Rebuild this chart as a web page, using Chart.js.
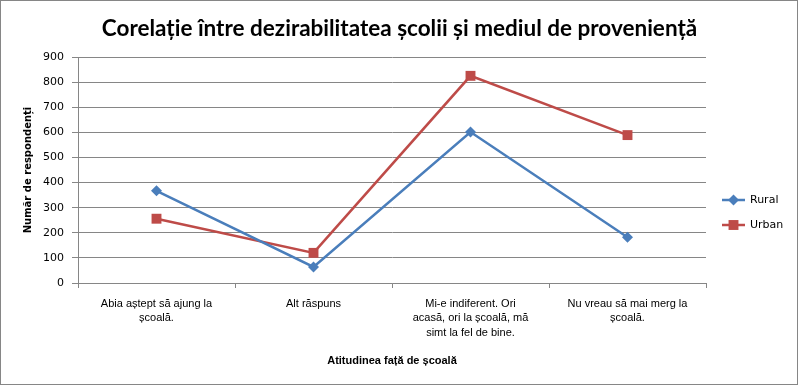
<!DOCTYPE html>
<html>
<head>
<meta charset="utf-8">
<script src="https://cdn.jsdelivr.net/npm/chart.js@4/dist/chart.umd.min.js"></script>
<style>
html,body{margin:0;padding:0;background:#fff;}
#wrap{width:799px;height:386px;position:relative;}
</style>
</head>
<body>
<div id="wrap"><canvas id="c" width="799" height="386"></canvas></div>
<script>
const chartTitle = "Corelație între dezirabilitatea școlii și mediul de proveniență";
const categories = [
  ["Abia aștept să ajung la", "școală."],
  ["Alt răspuns"],
  ["Mi-e indiferent. Ori", "acasă, ori la școală, mă", "simt la fel de bine."],
  ["Nu vreau să mai merg la", "școală."]
];
const ruralValues = [367, 64, 601, 182];
const urbanValues = [256, 120, 825, 589];
const seriesNames = ["Rural", "Urban"];
const yTitle = "Număr de respondenți";
const xTitle = "Atitudinea față de școală";
const yMax = 900;
const yStep = 100;

const gridColor = "#868686";
const blue = "#4A7EBB";
const red = "#BE4B48";

const bgPlugin = {
  id: "bg",
  beforeDraw(chart) {
    const ctx = chart.ctx;
    ctx.save();
    ctx.fillStyle = "#fff";
    ctx.fillRect(0, 0, chart.width, chart.height);
    ctx.restore();
  },
  afterDraw(chart) {
    const ctx = chart.ctx;
    ctx.save();
    ctx.strokeStyle = gridColor;
    ctx.lineWidth = 1;
    ctx.strokeRect(0.5, 0.5, chart.width - 2, chart.height - 2);
    // legend
    const items = chart.data.datasets;
    const x0 = 722, x1 = 745;
    const ys = [200, 225];
    items.forEach((ds, i) => {
      const y = ys[i];
      ctx.strokeStyle = ds.borderColor;
      ctx.lineWidth = 2.5;
      ctx.beginPath();
      ctx.moveTo(x0, y);
      ctx.lineTo(x1, y);
      ctx.stroke();
      ctx.fillStyle = ds.pointBackgroundColor;
      Chart.helpers.drawPoint(ctx, {pointStyle: ds.pointStyle, radius: ds.pointRadius, borderWidth: 0}, (x0 + x1) / 2, y);
      ctx.fillStyle = "#000";
      ctx.font = "11px 'DejaVu Sans'";
      ctx.textBaseline = "middle";
      ctx.textAlign = "left";
      ctx.fillText(ds.label, 750, y);
    });
    ctx.restore();
  }
};

new Chart(document.getElementById("c"), {
  type: "line",
  data: {
    labels: categories,
    datasets: [
      {
        label: seriesNames[0],
        data: ruralValues,
        borderColor: blue,
        backgroundColor: blue,
        pointBackgroundColor: blue,
        pointBorderColor: blue,
        pointStyle: "rectRot",
        pointRadius: 5.5,
        pointBorderWidth: 0,
        borderWidth: 2.5,
        tension: 0
      },
      {
        label: seriesNames[1],
        data: urbanValues,
        borderColor: red,
        backgroundColor: red,
        pointBackgroundColor: red,
        pointBorderColor: red,
        pointStyle: "rect",
        pointRadius: 7,
        pointBorderWidth: 0,
        borderWidth: 2.5,
        tension: 0
      }
    ]
  },
  options: {
    responsive: false,
    animation: false,
    devicePixelRatio: 1,
    layout: { padding: { left: 0, right: 0, top: 0, bottom: 0 } },
    plugins: {
      legend: { display: false },
      tooltip: { enabled: false },
      title: {
        display: true,
        text: chartTitle,
        color: "#000",
        font: { family: "Lato", size: 22.5, weight: "bold", lineHeight: 1.2 },
        padding: { top: 15, bottom: 15 }
      }
    },
    scales: {
      x: {
        offset: true,
        grid: {
          offset: true,
          drawOnChartArea: false,
          drawTicks: true,
          tickLength: 5,
          color: gridColor
        },
        border: { color: gridColor, width: 1 },
        ticks: {
          color: "#000",
          font: { family: "'Liberation Sans'", size: 11, lineHeight: 1.3 },
          maxRotation: 0,
          autoSkip: false,
          padding: 9
        },
        title: {
          display: true,
          text: xTitle,
          color: "#000",
          font: { family: "'Liberation Sans'", size: 11, weight: "bold" },
          padding: { top: 12, bottom: 18 }
        },
        afterFit(scale) { scale.height = 103; }
      },
      y: {
        min: 0,
        max: yMax,
        ticks: {
          stepSize: yStep,
          color: "#000",
          font: { family: "'DejaVu Sans'", size: 11 },
          padding: 8
        },
        grid: {
          color: gridColor,
          tickLength: 6,
          drawTicks: true
        },
        border: { color: gridColor, width: 1 },
        title: {
          display: true,
          text: yTitle,
          color: "#000",
          font: { family: "'DejaVu Sans'", size: 10, weight: "bold" },
          padding: { top: 22, bottom: 8 }
        },
        afterFit(scale) { scale.width = 78; }
      },
      legendSpace: {
        type: "linear",
        position: "right",
        display: true,
        grid: { display: false, drawTicks: false },
        border: { display: false },
        ticks: { display: false },
        afterFit(scale) { scale.width = 93; }
      }
    }
  },
  plugins: [bgPlugin]
});
</script>
</body>
</html>
